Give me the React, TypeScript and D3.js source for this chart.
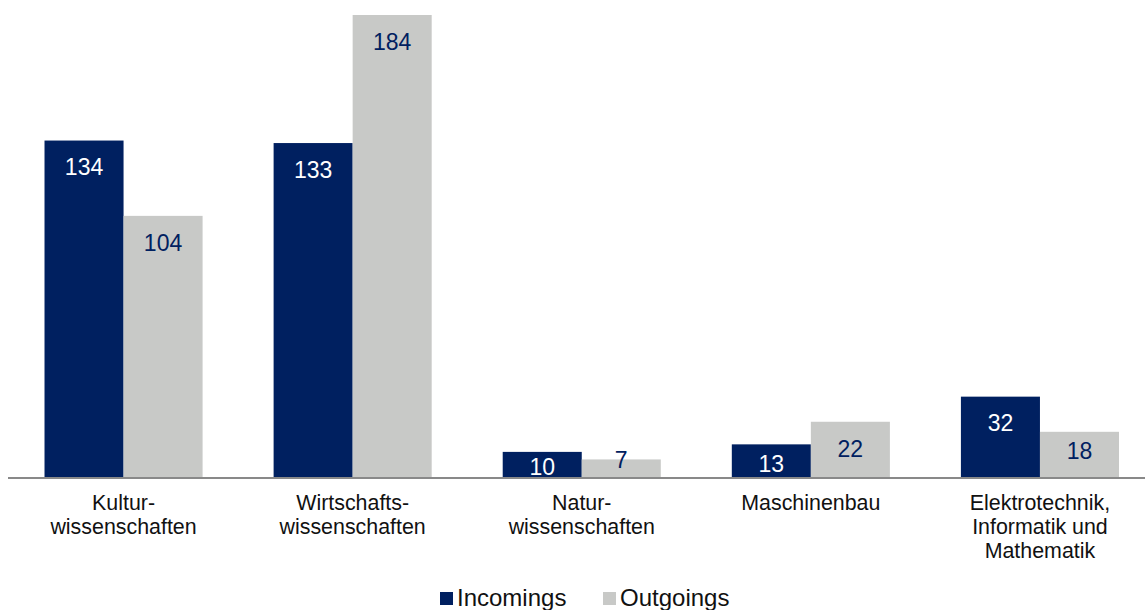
import React from "react";
import * as d3 from "d3";

const categories: string[][] = [
  ["Kultur-", "wissenschaften"],
  ["Wirtschafts-", "wissenschaften"],
  ["Natur-", "wissenschaften"],
  ["Maschinenbau"],
  ["Elektrotechnik,", "Informatik und", "Mathematik"],
];
const categoryKeys = ["Kultur", "Wirtschaft", "Natur", "Maschinenbau", "Elektro"];
const seriesNames = ["Incomings", "Outgoings"];
const incomings = [134, 133, 10, 13, 32];
const outgoings = [104, 184, 7, 22, 18];

const W = 1145;
const H = 610;
const NAVY = "#002060";
const GREY = "#c8c9c7";
const FONT = "'Liberation Sans', Arial, sans-serif";

function labelOffset(h: number): number {
  if (h >= 50) return 26.5;
  if (h >= 28) return 19;
  if (h >= 20) return h / 2 + 2;
  return 0.5;
}

export default function App() {
  const x = d3
    .scaleBand<string>()
    .domain(categoryKeys)
    .range([9, 9 + 5 * 229.1])
    .paddingInner(0.31)
    .paddingOuter(0.155);
  const xs = d3.scaleBand<string>().domain(seriesNames).range([0, x.bandwidth()]);
  const y = d3.scaleLinear().domain([0, 184]).range([477, 15]);
  const colors = [NAVY, GREY];
  const textColors = ["#ffffff", NAVY];
  const values = [incomings, outgoings];

  return (
    <svg
      width={W}
      height={H}
      style={{ position: "absolute", left: 0, top: 0, background: "#fff" }}
      fontFamily={FONT}
    >
      {categoryKeys.map((c, i) => (
        <g key={c} transform={`translate(${x(c)},0)`}>
          {seriesNames.map((s, si) => {
            const v = values[si][i];
            const top = y(v);
            const h = y(0) - top;
            const cx = (xs(s) as number) + xs.bandwidth() / 2;
            const cy = top + labelOffset(h);
            return (
              <g key={s}>
                <rect x={xs(s)} y={top} width={xs.bandwidth()} height={h} fill={colors[si]} />
                <text
                  x={cx}
                  y={cy}
                  dy="0.36em"
                  textAnchor="middle"
                  fontSize={23}
                  fill={textColors[si]}
                >
                  {v}
                </text>
              </g>
            );
          })}
        </g>
      ))}
      <line x1={8} x2={W} y1={478} y2={478} stroke="#898989" strokeWidth={2} />
      {categoryKeys.map((c, i) => {
        const cx = (x(c) as number) + x.bandwidth() / 2;
        return (
          <text key={c} x={cx} y={510} textAnchor="middle" fontSize={21.4} fill="#111">
            {categories[i].map((line, li) => (
              <tspan key={li} x={cx} y={510 + li * 24}>
                {line}
              </tspan>
            ))}
          </text>
        );
      })}
      <g>
        <rect x={440} y={592} width={13} height={13} fill={NAVY} />
        <text x={457} y={606} fontSize={24} fill="#111">
          {seriesNames[0]}
        </text>
        <rect x={603} y={592} width={13} height={13} fill={GREY} />
        <text x={620} y={606} fontSize={24} fill="#111">
          {seriesNames[1]}
        </text>
      </g>
    </svg>
  );
}
